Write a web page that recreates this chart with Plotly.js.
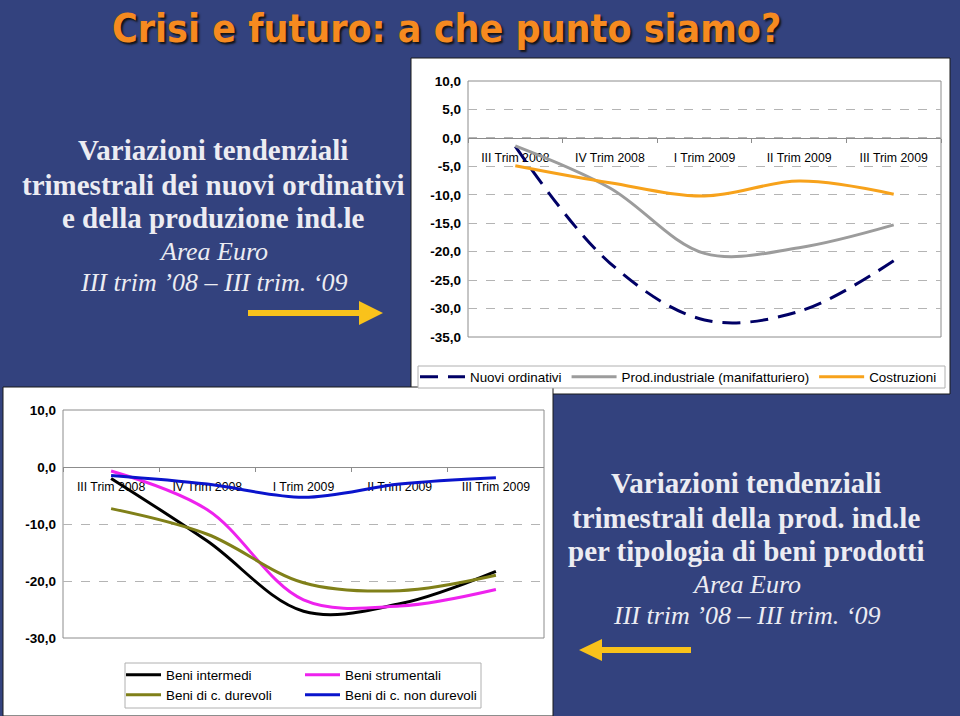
<!DOCTYPE html>
<html>
<head>
<meta charset="utf-8">
<script src="https://cdn.plot.ly/plotly-3.0.1.min.js"></script>
<style>
html,body{margin:0;padding:0;background:#33427e;}
#chart{width:960px;height:716px;}
</style>
</head>
<body>
<div id="chart"></div>
<script>
// ---------- DATA ----------
const categories = ['III Trim 2008', 'IV Trim 2008', 'I Trim 2009', 'II Trim 2009', 'III Trim 2009'];

// Top chart (Area Euro: ordinativi e produzione)
const nuoviOrdinativi = [-1.5, -22.0, -32.0, -30.5, -21.6];
const prodIndustriale = [-1.4, -8.8, -20.3, -19.3, -15.3];
const costruzioni     = [-4.9, -7.9, -10.2, -7.6, -9.9];

// Bottom chart (tipologia di beni)
const beniIntermedi   = [-2.0, -13.0, -25.3, -24.0, -18.3];
const beniStrumentali = [-0.7, -7.5, -23.3, -24.4, -21.5];
const beniDurevoli    = [-7.3, -11.8, -20.3, -21.7, -19.0];
const beniNonDurevoli = [-1.5, -3.0, -5.3, -3.0, -1.9];

const topTickVals = [10, 5, 0, -5, -10, -15, -20, -25, -30, -35];
const topTickText = ['10,0', '5,0', '0,0', '-5,0', '-10,0', '-15,0', '-20,0', '-25,0', '-30,0', '-35,0'];
const botTickVals = [10, 0, -10, -20, -30];
const botTickText = ['10,0', '0,0', '-10,0', '-20,0', '-30,0'];

const titleText = 'Crisi e futuro: a che punto siamo?';
const leftLines = ['Variazioni tendenziali', 'trimestrali dei nuovi ordinativi', 'e della produzione ind.le'];
const rightLines = ['Variazioni tendenziali', 'trimestrali della prod. ind.le', 'per tipologia di beni prodotti'];
const subLines = ['Area Euro', 'III trim \u201908 \u2013 III trim. \u201809'];

// ---------- LAYOUT HELPERS ----------
const W = 960, H = 716;
const px = v => v / W;
const py = v => 1 - v / H;

const topDomX = [px(468), px(941)];
const topDomY = [py(337), py(81)];
const topRange = [-35, 10];
const botDomX = [px(63), px(544)];
const botDomY = [py(638), py(410)];
const botRange = [-30, 10];
const zeroPos = (dom, rng) => dom[0] + (0 - rng[0]) / (rng[1] - rng[0]) * (dom[1] - dom[0]);

const sans = 'Liberation Sans, Arial, sans-serif';
const serif = 'Liberation Serif, Times New Roman, serif';
const axisGray = '#8c8c8c';

function ln(x, y, name, color, xa, ya, leg, dash) {
  return {
    x: x, y: y, name: name, type: 'scatter', mode: 'lines',
    line: {color: color, width: 3, shape: 'spline', smoothing: 1, dash: dash || 'solid'},
    xaxis: xa, yaxis: ya, legend: leg, hoverinfo: 'skip'
  };
}

const data = [
  ln(categories, nuoviOrdinativi, 'Nuovi ordinativi', '#000066', 'x', 'y', 'legend', '18px,10px'),
  ln(categories, prodIndustriale, 'Prod.industriale (manifatturiero)', '#9c9c9c', 'x', 'y', 'legend'),
  ln(categories, costruzioni, 'Costruzioni', '#f7a21b', 'x', 'y', 'legend'),
  ln(categories, beniIntermedi, 'Beni intermedi', '#000000', 'x2', 'y2', 'legend2'),
  ln(categories, beniStrumentali, 'Beni strumentali', '#ee22ee', 'x2', 'y2', 'legend2'),
  ln(categories, beniDurevoli, 'Beni di c. durevoli', '#808019', 'x2', 'y2', 'legend3'),
  ln(categories, beniNonDurevoli, 'Beni di c. non durevoli', '#0a14cc', 'x2', 'y2', 'legend3')
];

function xAxis(dom, pos) {
  return {
    domain: dom, type: 'category', categoryorder: 'array', categoryarray: categories,
    range: [-0.5, 4.5], anchor: 'free', position: pos,
    showline: true, linecolor: axisGray, linewidth: 1,
    ticks: 'outside', tickson: 'boundaries', ticklen: 4, tickcolor: axisGray,
    ticklabelstandoff: 8,
    tickfont: {family: sans, size: 12.3, color: '#000'},
    showgrid: false, zeroline: false, fixedrange: true, layer: 'below traces'
  };
}
function yAxis(dom, rng, vals, text, anchor) {
  return {
    domain: dom, range: rng, anchor: anchor,
    tickmode: 'array', tickvals: vals, ticktext: text,
    tickfont: {family: sans, size: 13.5, color: '#000', weight: 'bold'},
    showgrid: true, gridcolor: '#b4b4b4', griddash: 'dash', gridwidth: 1,
    zeroline: false, showline: false, ticks: '', ticklabelstandoff: 6,
    fixedrange: true, layer: 'below traces'
  };
}

function rectPx(x0, y0, x1, y1, fill, lineColor, lw) {
  return {type: 'rect', xref: 'paper', yref: 'paper', x0: px(x0), x1: px(x1), y0: py(y1), y1: py(y0),
    fillcolor: fill, line: {color: lineColor, width: lw}, layer: 'below'};
}
function pathPx(points, fill) {
  const d = points.map((p, i) => (i ? 'L' : 'M') + px(p[0]) + ',' + py(p[1])).join(' ') + ' Z';
  return {type: 'path', xref: 'paper', yref: 'paper', path: d, fillcolor: fill, line: {width: 0}, layer: 'above'};
}

const arrowColor = '#f9c21b';
const shapes = [
  // white chart panels
  rectPx(411, 58, 950, 394, '#ffffff', '#1a1a1a', 1),
  rectPx(3, 387, 553, 716, '#ffffff', '#1a1a1a', 1),
  // legend boxes
  rectPx(418, 366, 945, 388, '#ffffff', '#b0b0b0', 1),
  rectPx(125, 663, 481, 708, '#ffffff', '#b0b0b0', 1),
  // plot area borders
  {type: 'rect', xref: 'x domain', yref: 'y domain', x0: 0, x1: 1, y0: 0, y1: 1, line: {color: axisGray, width: 1}, layer: 'below'},
  {type: 'rect', xref: 'x2 domain', yref: 'y2 domain', x0: 0, x1: 1, y0: 0, y1: 1, line: {color: axisGray, width: 1}, layer: 'below'},
  // arrows
  pathPx([[248, 310], [359, 310], [359, 301], [383, 313], [359, 325], [359, 316], [248, 316]], arrowColor),
  pathPx([[691, 647], [602, 647], [602, 639], [579, 650], [602, 661], [602, 653], [691, 653]], arrowColor)
];

const txt = '#ececf2';
function ann(text, x, y, font) {
  return {text: text, xref: 'paper', yref: 'paper', x: px(x), y: py(y), xanchor: 'center', yanchor: 'middle',
    showarrow: false, font: font};
}
const boldF = {family: serif, size: 29, color: txt, weight: 'bold'};
const italF = {family: serif, size: 26, color: txt, style: 'italic'};

const annotations = [
  ann(titleText, 446, 28, {family: 'DejaVu Sans Condensed, Liberation Sans Narrow, Arial Narrow, sans-serif', size: 39, color: '#f68a20', weight: 'bold', shadow: '2px 2px 2px #141414'}),
  ann(leftLines[0], 213, 150, boldF),
  ann(leftLines[1], 213, 185, boldF),
  ann(leftLines[2], 213, 218, boldF),
  ann(subLines[0], 213, 251, italF),
  ann(subLines[1], 213, 283, italF),
  ann(rightLines[0], 746, 483, boldF),
  ann(rightLines[1], 746, 518, boldF),
  ann(rightLines[2], 746, 551, boldF),
  ann(subLines[0], 746, 584, italF),
  ann(subLines[1], 746, 615, italF)
];

const legFont = {family: sans, size: 13.4, color: '#000'};
const layout = {
  width: W, height: H,
  margin: {l: 0, r: 0, t: 0, b: 0, autoexpand: false},
  paper_bgcolor: '#33427e',
  plot_bgcolor: 'rgba(0,0,0,0)',
  showlegend: true,
  hovermode: false,
  xaxis: xAxis(topDomX, zeroPos(topDomY, topRange)),
  yaxis: yAxis(topDomY, topRange, topTickVals, topTickText, 'x'),
  xaxis2: xAxis(botDomX, zeroPos(botDomY, botRange)),
  yaxis2: yAxis(botDomY, botRange, botTickVals, botTickText, 'x2'),
  legend: {orientation: 'h', x: px(415), y: py(377), xanchor: 'left', yanchor: 'middle', itemwidth: 45,
    bgcolor: 'rgba(0,0,0,0)', borderwidth: 0, font: legFont, traceorder: 'normal'},
  legend2: {orientation: 'h', x: px(121), y: py(675), xanchor: 'left', yanchor: 'middle', itemwidth: 35,
    bgcolor: 'rgba(0,0,0,0)', borderwidth: 0, font: legFont, entrywidth: 129, entrywidthmode: 'pixels', traceorder: 'normal'},
  legend3: {orientation: 'h', x: px(121), y: py(695), xanchor: 'left', yanchor: 'middle', itemwidth: 35,
    bgcolor: 'rgba(0,0,0,0)', borderwidth: 0, font: legFont, entrywidth: 129, entrywidthmode: 'pixels', traceorder: 'normal'},
  shapes: shapes,
  annotations: annotations
};

Plotly.newPlot('chart', data, layout, {displayModeBar: false, staticPlot: true});
</script>
</body>
</html>
